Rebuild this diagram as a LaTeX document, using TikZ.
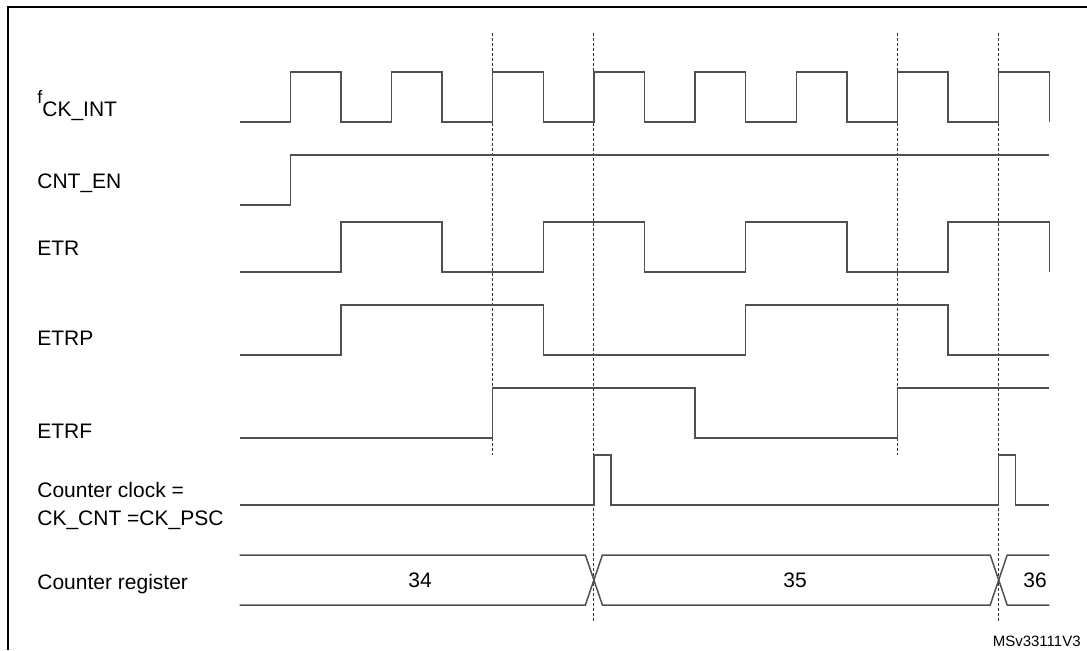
\documentclass[tikz,border=0pt]{standalone}
\usepackage{xcolor}
\usepackage{fontspec}
\setmainfont{Liberation Sans}
\usetikzlibrary{arrows}

\definecolor{sig}{RGB}{80,80,80}

\begin{document}
\begin{tikzpicture}[x=0.5pt,y=-0.5pt,
    lbl/.style={font=\fontsize{10.5}{14}\selectfont,inner sep=0pt},
    wave/.style={draw=sig,line width=0.75pt},
    guide/.style={draw=black!80,line width=0.45pt,dash pattern=on 1.5pt off 1pt}]
\useasboundingbox (0,0) rectangle (1087,650);
\draw[line width=1.1pt] (8,650) -- (8,7) -- (1087,7);

\node[lbl,anchor=base west] (fck) at (37,116) {\raisebox{6.5pt}{\fontsize{9}{10}\selectfont f}CK\_INT};
\node[lbl,anchor=base west] (cnten) at (37,188.5) {CNT\_EN};
\node[lbl,anchor=base west] (etr) at (37,255) {ETR};
\node[lbl,anchor=base west] (etrp) at (37,345.5) {ETRP};
\node[lbl,anchor=base west] (etrf) at (37,438.5) {ETRF};
\node[lbl,anchor=west,align=left] (ckcnt) at (37,506) {Counter clock =\\CK\_CNT =CK\_PSC};
\node[lbl,anchor=base west] (cntreg) at (37,589.5) {Counter register};

\begin{scope}[xshift=119.85pt,x=25.3pt]
\draw[guide] (5,33) -- (5,455);
\draw[guide] (13,33) -- (13,455);
\draw[guide] (7,33) -- (7,622);
\draw[guide] (15,33) -- (15,622);

\draw[wave] (0,122) -| (1,72) -| (2,122) -| (3,72) -| (4,122) -| (5,72) -| (6,122) -| (7,72) -| (8,122)
    -| (9,72) -| (10,122) -| (11,72) -| (12,122) -| (13,72) -| (14,122) -| (15,72) -| (16,122);
\draw[wave] (0,205) -| (1,155) -- (16,155);
\draw[wave] (0,272) -| (2,222) -| (4,272) -| (6,222) -| (8,272) -| (10,222) -| (12,272) -| (14,222) -| (16,272);
\draw[wave] (0,355) -| (2,305) -| (6,355) -| (10,305) -| (14,355) -- (16,355);
\draw[wave] (0,438) -| (5,388) -| (9,438) -| (13,388) -- (16,388);
\draw[wave] (0,505) -| (7,455) -| (7.333,505) -| (15,455) -| (15.333,505) -- (16,505);
\draw[wave] (0,555) -- (6.832,555) -- (7.168,605) -- (14.832,605) -- (15.168,555) -- (16,555);
\draw[wave] (0,605) -- (6.832,605) -- (7.168,555) -- (14.832,555) -- (15.168,605) -- (16,605);
\end{scope}

\node[lbl] (v34) at (420,580) {34};
\node[lbl] (v35) at (795,580) {35};
\node[lbl] (v36) at (1035,580) {36};

\node[lbl,font=\fontsize{7.5}{9}\selectfont,anchor=base east] (ref) at (1081,646) {MSv33111V3};
\end{tikzpicture}
\end{document}
